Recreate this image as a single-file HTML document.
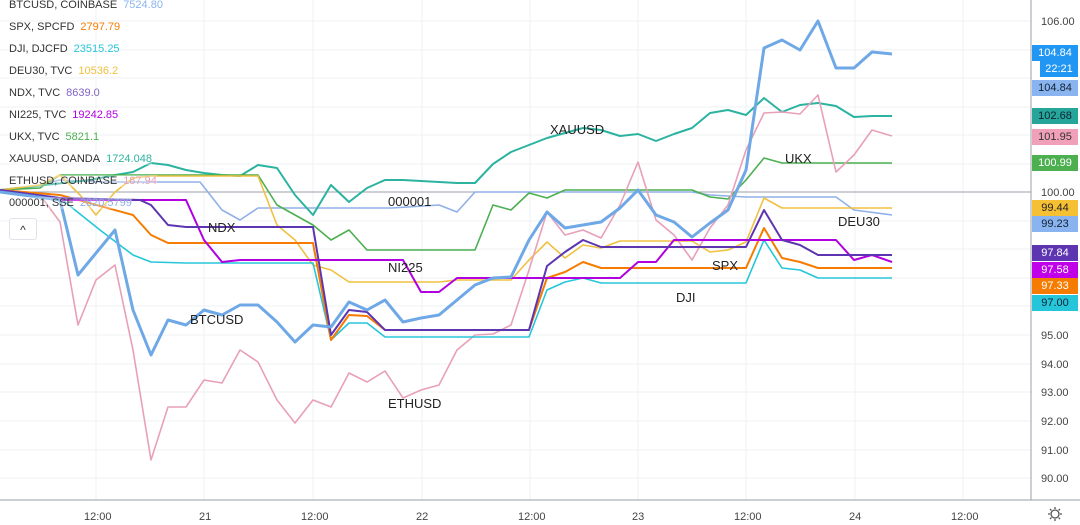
<!DOCTYPE html>
<html><head><meta charset="utf-8"><style>
body{margin:0;background:#fff;width:1080px;height:525px;overflow:hidden;font-family:"Liberation Sans",sans-serif}
svg{position:absolute;left:0;top:0}
.lg{position:absolute;left:9px;font-size:11px;color:#333;white-space:nowrap;background:rgba(255,255,255,0.3)}
.lg span{margin-left:6px}
.tag{position:absolute;left:1032px;width:46px;height:16px;font-size:11px;line-height:16px;text-align:center;color:#fff}
</style></head><body>
<svg width="1080" height="525" font-family="Liberation Sans, sans-serif">
<g stroke="#eef0f3" stroke-width="1">
<line x1="0" y1="21" x2="1031" y2="21"/><line x1="0" y1="50" x2="1031" y2="50"/><line x1="0" y1="78" x2="1031" y2="78"/><line x1="0" y1="107" x2="1031" y2="107"/><line x1="0" y1="135" x2="1031" y2="135"/><line x1="0" y1="164" x2="1031" y2="164"/><line x1="0" y1="221" x2="1031" y2="221"/><line x1="0" y1="249" x2="1031" y2="249"/><line x1="0" y1="278" x2="1031" y2="278"/><line x1="0" y1="306" x2="1031" y2="306"/><line x1="0" y1="335" x2="1031" y2="335"/><line x1="0" y1="364" x2="1031" y2="364"/><line x1="0" y1="392" x2="1031" y2="392"/><line x1="0" y1="421" x2="1031" y2="421"/><line x1="0" y1="450" x2="1031" y2="450"/><line x1="0" y1="478" x2="1031" y2="478"/>
<line x1="96" y1="0" x2="96" y2="500"/><line x1="204" y1="0" x2="204" y2="500"/><line x1="313" y1="0" x2="313" y2="500"/><line x1="422" y1="0" x2="422" y2="500"/><line x1="530" y1="0" x2="530" y2="500"/><line x1="638" y1="0" x2="638" y2="500"/><line x1="746" y1="0" x2="746" y2="500"/><line x1="855" y1="0" x2="855" y2="500"/><line x1="963" y1="0" x2="963" y2="500"/>
</g>
<line x1="0" y1="192" x2="1031" y2="192" stroke="#9aa0a8" stroke-width="1"/>
<line x1="1031" y1="0" x2="1031" y2="500" stroke="#9aa0a8"/>
<line x1="0" y1="500" x2="1080" y2="500" stroke="#9aa0a8"/>
<g fill="none" stroke-width="1.6" stroke-linejoin="round">
<polyline stroke="#90b0e8" points="0,190 40,185 60,180 100,182 200,182 222,210 240,220 258,208 277,208 313,208 392,208 439,205 457,212 475,192 600,192 692,192 710,195 746,197 836,197 854,210 892,215"/>
<polyline stroke="#2bb3a0" stroke-width="2" points="0,190 90,180 115,175 133,172 151,163 168,165 186,170 204,173 222,175 240,176 258,165 277,168 295,195 313,215 331,185 349,202 367,188 385,180 403,180 421,181 439,182 457,183 475,183 493,164 511,152 529,145 547,138 565,133 583,128 601,130 620,136 638,134 656,141 674,134 692,128 710,113 728,110 746,115 764,98 782,112 800,105 818,103 836,106 854,117 872,116 892,116"/>
<polyline stroke="#4caf50" points="0,190 40,188 60,175 100,175 258,175 277,205 295,215 313,225 331,240 349,230 367,250 475,250 493,205 511,210 529,193 547,198 565,190 692,190 710,197 728,199 746,180 764,158 782,163 892,163"/>
<polyline stroke="#f0c040" points="0,190 40,185 60,175 80,195 96,215 115,192 133,178 151,176 258,176 277,225 295,240 313,265 331,270 349,282 439,282 457,280 511,280 529,260 547,242 565,258 583,245 601,248 620,241 692,241 710,252 728,250 746,242 764,198 782,208 892,208"/>
<polyline stroke="#e8a0b8" points="0,192 40,195 60,222 78,325 96,280 115,265 133,350 151,460 168,407 186,407 204,380 222,383 240,350 258,362 277,400 295,423 313,400 331,407 349,373 367,382 385,371 403,398 421,390 439,385 457,350 475,335 493,334 511,325 529,270 547,212 565,235 583,230 601,238 620,205 638,162 656,220 674,235 692,260 710,228 728,205 746,150 764,113 782,112 800,114 818,95 836,172 854,155 872,130 892,136"/>
<polyline stroke="#26c6da" points="0,190 60,198 100,230 133,255 151,262 186,263 313,263 331,340 349,323 367,323 385,337 529,337 547,290 565,282 583,278 601,283 746,283 764,240 782,268 800,270 818,278 892,278"/>
<polyline stroke="#f57c00" stroke-width="2" points="0,190 60,195 133,215 151,235 168,243 186,243 313,243 331,340 349,315 367,316 385,330 529,330 547,278 565,272 583,262 601,268 746,268 764,228 782,258 800,262 818,268 892,268"/>
<polyline stroke="#b000e0" stroke-width="2" points="0,190 60,200 186,200 204,240 222,262 240,260 403,260 421,292 439,292 457,278 620,278 638,262 656,262 674,240 836,240 854,260 872,255 892,262"/>
<polyline stroke="#5e35b1" stroke-width="2" points="0,190 60,198 140,200 151,205 168,225 186,227 313,227 331,335 349,310 367,312 385,330 529,330 547,266 565,252 583,240 601,247 746,247 764,210 782,240 800,245 818,255 892,255"/>
<polyline stroke="#6fa8e6" stroke-width="3" points="0,192 60,200 78,275 115,230 133,310 151,355 168,320 186,325 204,310 222,315 240,305 258,305 277,322 295,342 313,325 331,327 349,302 367,310 385,300 403,322 421,318 439,315 457,300 475,285 493,278 511,277 529,240 547,212 565,228 583,225 601,222 620,208 638,190 656,215 674,222 692,237 710,223 728,210 746,170 764,48 782,40 800,50 818,21 836,68 854,68 872,52 892,54"/>
</g>
<g font-size="13" fill="#222">
<text x="550" y="134">XAUUSD</text><text x="388" y="206">000001</text><text x="208" y="232">NDX</text><text x="388" y="272">NI225</text><text x="190" y="324">BTCUSD</text><text x="388" y="408">ETHUSD</text><text x="785" y="163">UKX</text><text x="838" y="226">DEU30</text><text x="712" y="270">SPX</text><text x="676" y="302">DJI</text>
</g>
<g font-size="11" fill="#444">
<text x="1041" y="25">106.00</text><text x="1041" y="196">100.00</text><text x="1041" y="339">95.00</text><text x="1041" y="368">94.00</text><text x="1041" y="396">93.00</text><text x="1041" y="425">92.00</text><text x="1041" y="454">91.00</text><text x="1041" y="482">90.00</text>
<text x="84" y="520">12:00</text><text x="199" y="520">21</text><text x="301" y="520">12:00</text><text x="416" y="520">22</text><text x="518" y="520">12:00</text><text x="632" y="520">23</text><text x="734" y="520">12:00</text><text x="849" y="520">24</text><text x="951" y="520">12:00</text>
</g>
<g stroke="#555" fill="none" stroke-width="1.3"><circle cx="1055" cy="514" r="4"/><path d="M1055 507v2M1055 519v2M1048 514h2M1060 514h2M1050 509l1.4 1.4M1058.6 517.6l1.4 1.4M1050 519l1.4-1.4M1058.6 510.4l1.4-1.4"/></g>
</svg>
<div class="lg" style="top:-1px">BTCUSD, COINBASE<span style="color:#8ab4f0">7524.80</span></div>
<div class="lg" style="top:21px">SPX, SPCFD<span style="color:#f57c00">2797.79</span></div>
<div class="lg" style="top:43px">DJI, DJCFD<span style="color:#26c6da">23515.25</span></div>
<div class="lg" style="top:65px">DEU30, TVC<span style="color:#f0c040">10536.2</span></div>
<div class="lg" style="top:87px">NDX, TVC<span style="color:#7e65c5">8639.0</span></div>
<div class="lg" style="top:109px">NI225, TVC<span style="color:#b000e0">19242.85</span></div>
<div class="lg" style="top:131px">UKX, TVC<span style="color:#4caf50">5821.1</span></div>
<div class="lg" style="top:153px">XAUUSD, OANDA<span style="color:#2bb3a0">1724.048</span></div>
<div class="lg" style="top:175px">ETHUSD, COINBASE<span style="color:#e8a0b8">187.94</span></div>
<div class="lg" style="top:197px">000001, SSE<span style="color:#90b0e8">2820.5799</span></div>
<div style="position:absolute;left:9px;top:218px;width:26px;height:20px;border:1px solid #e0e3eb;border-radius:3px;background:#fff;text-align:center;font-size:12px;line-height:22px;color:#333">^</div>
<div class="tag" style="top:45px;background:#2196f3">104.84</div>
<div class="tag" style="top:61px;background:#2196f3;left:1040px;width:38px">22:21</div>
<div class="tag" style="top:80px;background:#8ab4f0;color:#123">104.84</div>
<div class="tag" style="top:108px;background:#26a69a;color:#123">102.68</div>
<div class="tag" style="top:129px;background:#f0a0b8;color:#333">101.95</div>
<div class="tag" style="top:155px;background:#4caf50">100.99</div>
<div class="tag" style="top:200px;background:#f5c033;color:#222">99.44</div>
<div class="tag" style="top:216px;background:#8ab4f0;color:#123">99.23</div>
<div class="tag" style="top:245px;background:#5e35b1">97.84</div>
<div class="tag" style="top:262px;background:#c000e8">97.58</div>
<div class="tag" style="top:278px;background:#f57c00">97.33</div>
<div class="tag" style="top:295px;background:#26c6da;color:#123">97.00</div>
</body></html>
